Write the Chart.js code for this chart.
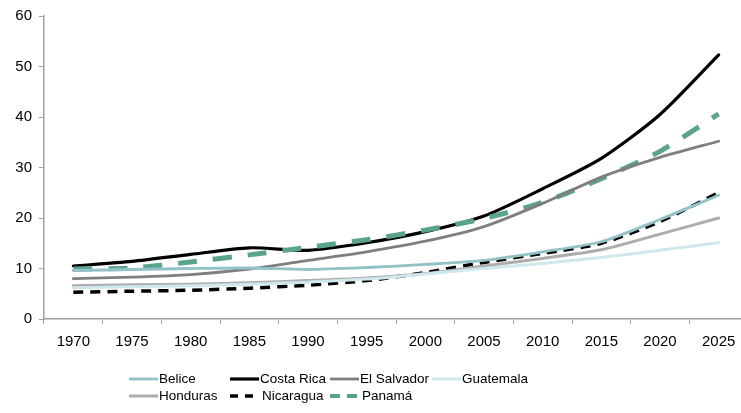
<!DOCTYPE html>
<html>
<head>
<meta charset="utf-8">
<script src="https://cdn.jsdelivr.net/npm/chart.js@4"></script>
<style>
  html, body { margin: 0; padding: 0; background: #fff; overflow: hidden; width: 741px; height: 413px; }
  #wrap { position: absolute; left: 0; top: 0; width: 748px; height: 413px; }
</style>
</head>
<body>
<div id="wrap"><canvas id="c" width="748" height="413"></canvas></div>
<script>
const years = ['1970','1975','1980','1985','1990','1995','2000','2005','2010','2015','2020','2025'];
const yTicks = [0, 10, 20, 30, 40, 50, 60];

const belice     = [9.6, 9.8, 10.0, 10.1, 9.8, 10.2, 10.8, 11.6, 13.3, 15.3, 19.7, 24.5];
const costaRica  = [10.5, 11.4, 12.8, 14.1, 13.6, 15.1, 17.3, 20.4, 25.8, 31.8, 40.5, 52.3];
const elSalvador = [8.0, 8.3, 8.8, 9.9, 11.6, 13.3, 15.4, 18.3, 22.9, 28.1, 32.0, 35.2];
const guatemala  = [6.2, 6.4, 6.6, 6.9, 7.3, 7.9, 8.9, 10.0, 11.0, 12.2, 13.6, 15.1];
const honduras   = [6.6, 6.8, 6.9, 7.2, 7.6, 8.1, 9.0, 10.5, 12.0, 13.7, 16.8, 20.0];
const nicaragua  = [5.3, 5.5, 5.7, 6.1, 6.7, 7.6, 9.2, 11.2, 13.0, 15.0, 19.3, 25.0];
const panama     = [9.9, 10.1, 11.3, 12.7, 14.2, 15.7, 17.6, 19.9, 23.1, 27.8, 33.2, 40.6];

const FONT = "'Liberation Sans', Arial, sans-serif";
const AXIS = '#a0a0a0';

function ds(label, data, color, width, dash) {
  return {
    label, data,
    borderColor: color, backgroundColor: color,
    borderWidth: width, borderDash: dash || [],
    pointRadius: 0, pointHoverRadius: 0,
    tension: 0.25, fill: false,
    borderCapStyle: dash ? 'butt' : 'round'
  };
}

const datasets = [
  ds('Guatemala', guatemala, '#cfe8ec', 3),
  ds('Honduras', honduras, '#adadad', 3),
  ds('Belice', belice, '#92c2c5', 2.8),
  ds('El Salvador', elSalvador, '#7f7f7f', 2.8),
  ds('Nicaragua', nicaragua, '#000000', 3.5, [10, 7]),
  ds('Panamá', panama, '#5aa48e', 5, [19, 16]),
  ds('Costa Rica', costaRica, '#000000', 3.2)
];

// legend layout (order as in the reference)
const legendOrder = [
  ['Belice', 'Costa Rica', 'El Salvador', 'Guatemala'],
  ['Honduras', 'Nicaragua', 'Panamá']
];
const legendCols = [129, 230, 330, 432];
const legendRows = [379, 396];

const legendPlugin = {
  id: 'gridLegend',
  afterDraw(chart) {
    const ctx = chart.ctx;
    ctx.save();
    ctx.font = '13.5px ' + FONT;
    ctx.fillStyle = '#000';
    ctx.textBaseline = 'middle';
    legendOrder.forEach((row, r) => {
      row.forEach((name, c) => {
        const d = chart.data.datasets.find(x => x.label === name);
        const x0 = legendCols[c], y = legendRows[r];
        ctx.beginPath();
        ctx.strokeStyle = d.borderColor;
        ctx.lineWidth = Math.min(d.borderWidth, 4);
        if (d.borderDash.length) {
          ctx.setLineDash(name === 'Panamá' ? [10, 7] : [8, 7]);
        } else {
          ctx.setLineDash([]);
        }
        ctx.lineCap = 'butt';
        ctx.moveTo(x0, y);
        ctx.lineTo(x0 + 29, y);
        ctx.stroke();
        ctx.setLineDash([]);
        ctx.fillText(name, x0 + (d.borderDash.length ? 32 : 30), y + 0.5);
      });
    });
    ctx.restore();
  }
};

new Chart(document.getElementById('c'), {
  type: 'line',
  data: { labels: years, datasets },
  options: {
    responsive: false,
    animation: false,
    devicePixelRatio: 1,
    layout: { padding: { top: 15, bottom: 58, left: 0, right: 0 } },
    plugins: { legend: { display: false }, tooltip: { enabled: false } },
    scales: {
      x: {
        type: 'category',
        offset: true,
        grid: { display: true, drawOnChartArea: false, drawTicks: true, tickLength: 5, color: AXIS, offset: true },
        border: { color: AXIS, width: 1.5 },
        ticks: { color: '#000', font: { size: 15, family: FONT }, padding: 9, maxRotation: 0, autoSkip: false },
        afterFit(s) { s.height = 36; }
      },
      y: {
        min: 0, max: 60,
        afterBuildTicks(s) { s.ticks = yTicks.map(v => ({ value: v })); },
        grid: { display: true, drawOnChartArea: false, drawTicks: true, tickLength: 5, color: AXIS },
        border: { color: AXIS, width: 1.5 },
        ticks: { color: '#000', font: { size: 15, family: FONT }, padding: 7 },
        afterFit(s) { s.width = 44; }
      }
    }
  },
  plugins: [legendPlugin]
});
</script>
</body>
</html>
